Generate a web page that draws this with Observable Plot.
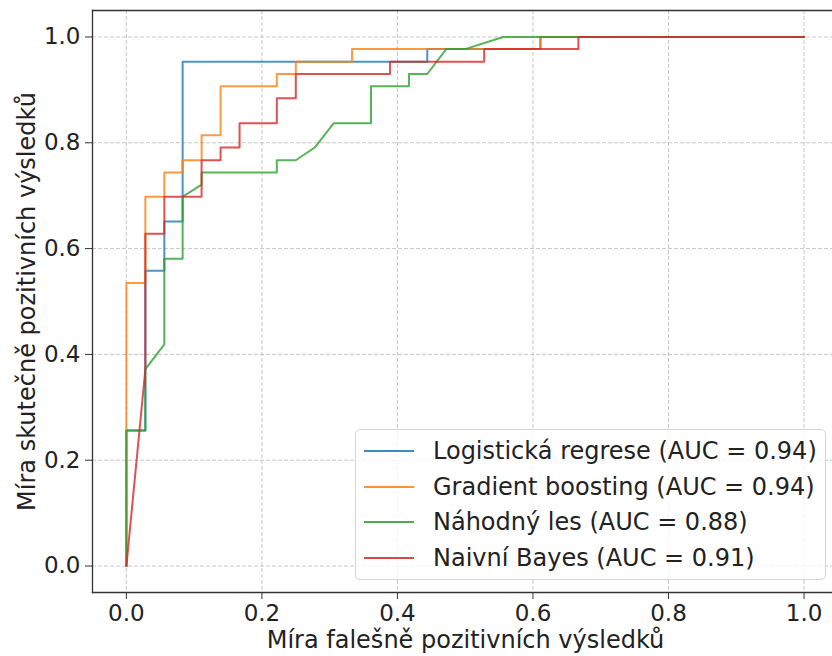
<!DOCTYPE html>
<html lang="cs">
<head>
<meta charset="utf-8">
<script src="https://cdn.jsdelivr.net/npm/d3@7"></script>
<script src="https://cdn.jsdelivr.net/npm/@observablehq/plot@0.6"></script>
<style>
  html, body { margin: 0; padding: 0; background: #fff; }
  #chart { position: relative; width: 832px; height: 656px; overflow: hidden; }
  #legend {
    position: absolute; left: 355px; top: 429px; width: 471px; height: 151px;
    box-sizing: border-box; border: 1px solid #d6d6d6; border-radius: 5px;
    background: rgba(255,255,255,0.8);
    font-family: "DejaVu Sans", sans-serif; font-size: 24px; color: #222;
  }
  .entry { position: absolute; left: 0; height: 30px; display: flex; align-items: center; white-space: nowrap; }
  .swatch { width: 50px; height: 0; border-top: 2px solid; margin-left: 8px; margin-right: 19px; opacity: 0.85; }
</style>
</head>
<body>
<div id="chart"></div>
<script>
// ROC curves of four classifiers: false positive rate vs. true positive rate
const seriesNames = ["Logistická regrese", "Gradient boosting", "Náhodný les", "Naivní Bayes"];
const aucValues = [0.94, 0.94, 0.88, 0.91];
const seriesColors = ["#1f77b4", "#ff7f0e", "#2ca02c", "#d62728"];

const logRegFpr = [0, 0, 0.028, 0.028, 0.056, 0.056, 0.083, 0.083, 0.444, 0.444, 0.611, 0.611, 1];
const logRegTpr = [0, 0.256, 0.256, 0.558, 0.558, 0.651, 0.651, 0.953, 0.953, 0.977, 0.977, 1, 1];

const gbFpr = [0, 0, 0.028, 0.028, 0.056, 0.056, 0.083, 0.083, 0.111, 0.111, 0.139, 0.139, 0.222, 0.222, 0.25, 0.25, 0.333, 0.333, 0.611, 0.611, 1];
const gbTpr = [0, 0.535, 0.535, 0.698, 0.698, 0.744, 0.744, 0.767, 0.767, 0.814, 0.814, 0.907, 0.907, 0.930, 0.930, 0.953, 0.953, 0.977, 0.977, 1, 1];

const rfFpr = [0, 0, 0.028, 0.028, 0.056, 0.056, 0.083, 0.083, 0.111, 0.111, 0.222, 0.222, 0.25, 0.278, 0.306, 0.361, 0.361, 0.417, 0.417, 0.444, 0.472, 0.5, 0.556, 1];
const rfTpr = [0, 0.256, 0.256, 0.372, 0.419, 0.581, 0.581, 0.698, 0.721, 0.744, 0.744, 0.767, 0.767, 0.791, 0.837, 0.837, 0.907, 0.907, 0.930, 0.930, 0.977, 0.977, 1, 1];

const nbFpr = [0, 0.028, 0.028, 0.056, 0.056, 0.111, 0.111, 0.139, 0.139, 0.167, 0.167, 0.222, 0.222, 0.25, 0.25, 0.389, 0.389, 0.528, 0.528, 0.667, 0.667, 1];
const nbTpr = [0, 0.372, 0.628, 0.628, 0.698, 0.698, 0.767, 0.767, 0.791, 0.791, 0.837, 0.837, 0.884, 0.884, 0.930, 0.930, 0.953, 0.953, 0.977, 0.977, 1, 1];

const xTicks = [0, 0.2, 0.4, 0.6, 0.8, 1.0];
const yTicks = [0, 0.2, 0.4, 0.6, 0.8, 1.0];
const xLabel = "Míra falešně pozitivních výsledků";
const yLabel = "Míra skutečně pozitivních výsledků";

const curves = [
  [logRegFpr, logRegTpr],
  [gbFpr, gbTpr],
  [rfFpr, rfTpr],
  [nbFpr, nbTpr]
];
const rows = curves.flatMap(([fx, ty], i) =>
  fx.map((f, j) => ({series: seriesNames[i], fpr: f, tpr: ty[j]}))
);

const font = "DejaVu Sans, sans-serif";
const grid = {stroke: "#b0b0b0", strokeOpacity: 0.7, strokeWidth: 1, strokeDasharray: "4,2"};

const chart = Plot.plot({
  width: 832,
  height: 656,
  marginLeft: 92,
  marginRight: 0,
  marginTop: 10,
  marginBottom: 64,
  style: {fontFamily: font, background: "#fff", color: "#222"},
  x: {domain: [-0.05, 1.042]},
  y: {domain: [-0.05, 1.05]},
  color: {domain: seriesNames, range: seriesColors},
  marks: [
    Plot.gridX(xTicks, grid),
    Plot.gridY(yTicks, grid),
    ...seriesNames.map(name =>
      Plot.line(rows.filter(d => d.series === name), {
        x: "fpr", y: "tpr", stroke: "series",
        strokeWidth: 2, strokeOpacity: 0.8, curve: "linear"
      })
    ),
    Plot.axisX(xTicks, {
      tickSize: 7, tickPadding: 5, fontSize: 23, tickFormat: d3.format(".1f"),
      label: null, stroke: "#333", fill: "#222"
    }),
    Plot.axisY(yTicks, {
      tickSize: 7, tickPadding: 5, fontSize: 23, tickFormat: d3.format(".1f"),
      label: null, stroke: "#333", fill: "#222"
    }),
    // spines: left, top, bottom (the right one lies past the edge)
    Plot.frame({anchor: "left", stroke: "#333", strokeWidth: 1.3}),
    Plot.frame({anchor: "top", stroke: "#333", strokeWidth: 1.3}),
    Plot.frame({anchor: "bottom", stroke: "#333", strokeWidth: 1.3}),
    Plot.text([xLabel], {
      frameAnchor: "bottom", textAnchor: "middle", lineAnchor: "middle",
      dx: 3, dy: 48, fontSize: 24, fill: "#222", text: d => d
    }),
    Plot.text([yLabel], {
      frameAnchor: "left", textAnchor: "middle", lineAnchor: "middle",
      dx: -65, rotate: -90, fontSize: 24, fill: "#222", text: d => d
    })
  ]
});

const host = document.getElementById("chart");
host.appendChild(chart);

// legend box inside the plot area, lower right
const legend = document.createElement("div");
legend.id = "legend";
seriesNames.forEach((name, i) => {
  const entry = document.createElement("div");
  entry.className = "entry";
  entry.style.top = (6 + i * 35.5) + "px";
  const sw = document.createElement("span");
  sw.className = "swatch";
  sw.style.borderTopColor = seriesColors[i];
  const label = document.createElement("span");
  label.textContent = `${name} (AUC = ${aucValues[i].toFixed(2)})`;
  entry.appendChild(sw);
  entry.appendChild(label);
  legend.appendChild(entry);
});
host.appendChild(legend);
</script>
</body>
</html>
